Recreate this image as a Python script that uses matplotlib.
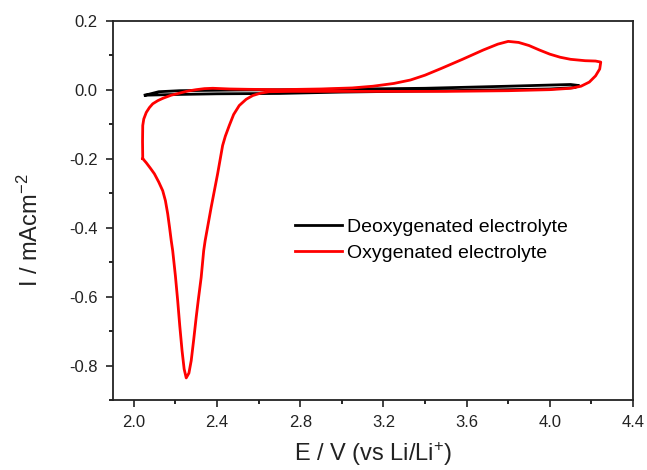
import matplotlib
matplotlib.use("Agg")
import matplotlib.pyplot as plt
from matplotlib.ticker import MultipleLocator

plt.rcParams['font.family'] = ['Liberation Sans', 'DejaVu Sans']
plt.rcParams['mathtext.default'] = 'regular'

# Deoxygenated electrolyte (black loop)
deox_E = [2.055, 2.12, 2.22, 2.50, 2.80, 3.40, 3.80, 4.10, 4.14,
          4.12, 4.00, 3.50, 3.00, 2.70, 2.40, 2.20, 2.055]
deox_I = [-0.016, -0.006, -0.003, -0.001, 0.000, 0.004, 0.010, 0.015, 0.012,
          0.006, 0.002, -0.003, -0.007, -0.011, -0.012, -0.014, -0.016]

# Oxygenated electrolyte (red loop)
oxy_E = [2.043, 2.042, 2.043, 2.048, 2.060, 2.075, 2.091, 2.115, 2.140, 2.180,
         2.220, 2.260, 2.300, 2.340, 2.380, 2.460, 2.550, 2.700, 2.900, 3.050,
         3.150, 3.250, 3.330, 3.400, 3.480, 3.580, 3.680, 3.750, 3.800, 3.850,
         3.900, 3.950, 4.000, 4.050, 4.100, 4.170, 4.220, 4.245,
         4.240, 4.220, 4.190, 4.150, 4.100, 4.000, 3.800, 3.500, 3.000, 2.760,
         2.650, 2.610, 2.572, 2.540, 2.507, 2.480, 2.459, 2.440, 2.427, 2.403,
         2.372, 2.343, 2.336, 2.324, 2.310, 2.300, 2.288, 2.276, 2.265, 2.252,
         2.242, 2.232, 2.221, 2.211, 2.200, 2.187, 2.180, 2.172, 2.163, 2.152,
         2.139, 2.120, 2.099, 2.080, 2.060, 2.043]
oxy_I = [-0.200, -0.150, -0.104, -0.085, -0.066, -0.052, -0.041, -0.032, -0.025, -0.016,
         -0.010, -0.004, 0.000, 0.003, 0.004, 0.002, 0.001, 0.000, 0.002, 0.005,
         0.010, 0.018, 0.028, 0.042, 0.062, 0.088, 0.115, 0.132, 0.140, 0.137,
         0.128, 0.115, 0.103, 0.094, 0.088, 0.084, 0.083, 0.080,
         0.060, 0.040, 0.022, 0.010, 0.004, 0.000, -0.003, -0.005, -0.005, -0.005,
         -0.006, -0.010, -0.017, -0.028, -0.046, -0.072, -0.104, -0.135, -0.162, -0.244,
         -0.341, -0.438, -0.467, -0.544, -0.610, -0.660, -0.725, -0.786, -0.822, -0.836,
         -0.810, -0.757, -0.685, -0.612, -0.540, -0.467, -0.438, -0.400, -0.360, -0.322,
         -0.293, -0.268, -0.244, -0.228, -0.212, -0.200]

fig = plt.figure(figsize=(6.47, 4.70), dpi=100)
ax = fig.add_axes([113/647, 1-400/470, (633-113)/647, (400-20.7)/470])

ax.plot(deox_E, deox_I, color='black', lw=2.0, label='Deoxygenated electrolyte', zorder=2)
ax.plot(oxy_E, oxy_I, color='#ff0000', lw=2.0, label='Oxygenated electrolyte', zorder=3)

ax.set_xlim(1.9, 4.4)
ax.set_ylim(-0.9, 0.2)
ax.xaxis.set_minor_locator(MultipleLocator(0.2))
ax.yaxis.set_minor_locator(MultipleLocator(0.1))
ax.set_xticks([2.0, 2.4, 2.8, 3.2, 3.6, 4.0, 4.4])
ax.set_xticklabels(['2.0', '2.4', '2.8', '3.2', '3.6', '4.0', '4.4'])
ax.set_yticks([-0.8, -0.6, -0.4, -0.2, 0.0, 0.2])
ax.set_yticklabels(['-0.8', '-0.6', '-0.4', '-0.2', '0.0', '0.2'])

ax.tick_params(which='major', direction='out', length=5, width=1.2, labelsize=12,
               pad=6, colors='#222222', top=False, right=False)
ax.tick_params(which='minor', direction='out', length=3, width=1.2, top=False, right=False)
for s in ax.spines.values():
    s.set_linewidth(1.3)
    s.set_color('#222222')

ax.set_xlabel('E / V (vs Li/Li$^{+}$)', fontsize=17, color='#222222', labelpad=7)
ax.set_ylabel('I / mAcm$^{-2}$', fontsize=17, color='#222222')
ax.yaxis.set_label_coords(-0.135, 0.448)

ax.legend(loc='upper left', bbox_to_anchor=(0.336, 0.50), frameon=False, fontsize=14,
          handlelength=2.4, handletextpad=0.25, labelspacing=0.45, borderaxespad=0)

fig.savefig('out.png', dpi=100)
